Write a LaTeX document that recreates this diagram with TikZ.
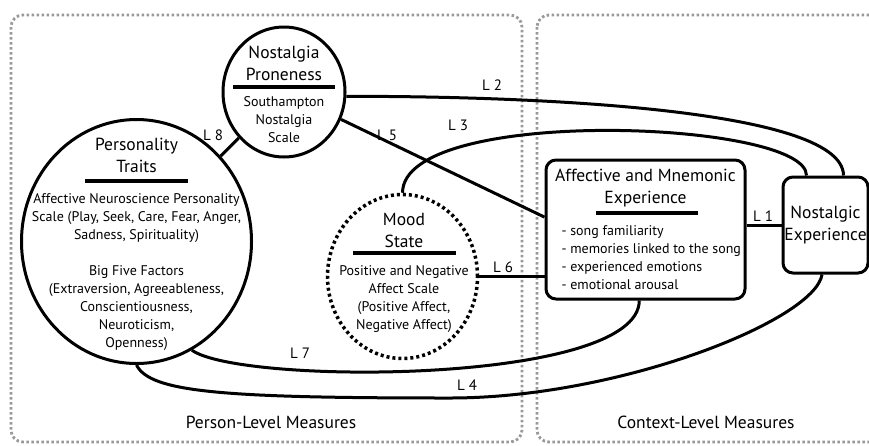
\documentclass[tikz,border=0pt]{standalone}
\usepackage{fontspec}
\setmainfont{PT Sans}
\usepackage{tikz}
\usetikzlibrary{positioning,
				shapes.geometric,
				calc}

\tikzset{
  measure/.style={ellipse, draw, line width=3pt, inner sep=0pt},
  moodring/.style={measure, line width=3.5pt, dash pattern=on 3pt off 3pt},
  expbox/.style={rectangle, draw, line width=3pt, rounded corners=10pt, inner sep=0pt},
  titletext/.style={align=center, font=\fontsize{17.5}{22}\selectfont},
  bodytext/.style={align=center, font=\fontsize{14}{18}\selectfont},
  listtext/.style={align=left, anchor=west, font=\fontsize{14}{18}\selectfont},
  linklabel/.style={font=\fontsize{15}{18}\selectfont},
  link/.style={line width=3pt},
  rulebar/.style={line width=4pt},
  levelframe/.style={draw=gray!80, line width=2.8pt, dash pattern=on 2.6pt off 2.4pt, rounded corners=12pt}
}

\begin{document}
\begin{tikzpicture}[x=1pt,y=-1pt]
  \useasboundingbox (0,0) rectangle (869,445);
  \draw[levelframe] (11,15) rectangle (522,442);
  \draw[levelframe] (537,15) rectangle (885,442);
  \node[titletext] (person) at (271,422) {Person-Level Measures};
  \node[titletext] (context) at (706,422) {Context-Level Measures};

  \node[measure, minimum width=122, minimum height=130] (np) at (284,92) {};
  \node[titletext] (npTitle) at (284,63) {Nostalgia\\Proneness};
  \draw[rulebar] (233,87) -- (335,87);
  \node[bodytext] (npBody) at (284,120) {Southampton\\Nostalgia\\Scale};

  \node[measure, minimum width=230, minimum height=244] (pt) at (136.5,241.5) {};
  \node[titletext] (ptTitle) at (136.5,155) {Personality\\Traits};
  \draw[rulebar] (85,181) -- (188,181);
  \node[bodytext] (ptBody) at (136.5,272) {Affective Neuroscience Personality\\Scale (Play, Seek, Care, Fear, Anger,\\Sadness, Spirituality)\\[18pt]Big Five Factors\\(Extraversion, Agreeableness,\\Conscientiousness,\\Neuroticism,\\Openness)};

  \node[moodring, minimum width=150, minimum height=164] (ms) at (402.5,276.5) {};
  \node[titletext] (msTitle) at (404,230) {Mood\\State};
  \draw[rulebar] (353,253) -- (456,253);
  \node[bodytext] (msBody) at (404,299.5) {Positive and Negative\\Affect Scale\\(Positive Affect,\\Negative Affect)};

  \node[expbox, minimum width=199, minimum height=139] (aff) at (645.5,229.5) {};
  \node[titletext] (affTitle) at (645.5,188.5) {Affective and Mnemonic\\Experience};
  \draw[rulebar] (596,213) -- (698,213);
  \node[listtext] (affList) at (558,258) {- song familiarity\\- memories linked to the song\\- experienced emotions\\- emotional arousal};

  \node[expbox, titletext, minimum width=85, minimum height=96] (ne) at (825.5,225) {Nostalgic\\Experience};

  \draw[link] (aff.east |- ne.west) -- (ne.west);
  \draw[link] (np.-4) .. controls (500,96) and (843,105) .. (ne.70);
  \draw[link] (ms.north) .. controls (403,105) and (807,120) .. (ne.111);
  \draw[link] (pt.south) .. controls (150,392) and (220,398) .. (450,398) .. controls (620,398) and (815,320) .. (ne.-94);
  \draw[link] (np) -- (aff.173);
  \draw[link] (ms.east) -- (ms.east -| aff.west);
  \draw[link] (pt.-63) .. controls (240,385) and (639,385) .. (aff.-95);
  \draw[link] (pt) -- (np);

  \node[linklabel] (l1) at (763,216) {L 1};
  \node[linklabel] (l2) at (492,85) {L 2};
  \node[linklabel] (l3) at (458,125) {L 3};
  \node[linklabel] (l4) at (467,385) {L 4};
  \node[linklabel] (l5) at (387,135) {L 5};
  \node[linklabel] (l6) at (503,267) {L 6};
  \node[linklabel] (l7) at (300,353) {L 7};
  \node[linklabel] (l8) at (213,135) {L 8};
\end{tikzpicture}
\end{document}
